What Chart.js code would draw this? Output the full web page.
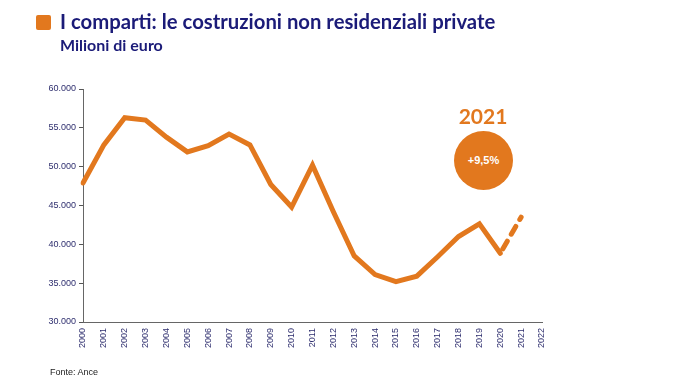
<!DOCTYPE html>
<html><head><meta charset="utf-8">
<script src="https://cdn.jsdelivr.net/npm/chart.js@4/dist/chart.umd.min.js"></script>
<style>
html,body{margin:0;padding:0;background:#fff;width:680px;height:382px;overflow:hidden;position:relative;font-family:Lato,"Open Sans",sans-serif;}
#c{position:absolute;left:0;top:0;}
.sq{position:absolute;left:36px;top:15px;width:15px;height:15px;background:#E2781E;border-radius:2px;}
.t1{position:absolute;left:60px;top:9px;font-weight:700;font-size:20.3px;color:#1B1B78;white-space:nowrap;}
.t2{position:absolute;left:60px;top:35px;font-weight:700;font-size:16px;color:#1B1B78;white-space:nowrap;}
.yr{position:absolute;left:443px;top:103px;width:80px;text-align:center;font-weight:700;font-size:21px;color:#E2781E;}
.circ{position:absolute;left:454px;top:131px;width:59px;height:59px;border-radius:50%;background:#E2781E;color:#fff;font-family:"Liberation Sans",Arial,sans-serif;font-weight:700;font-size:11px;line-height:59px;text-align:center;}
.src{position:absolute;left:50px;top:367px;font-family:"Liberation Sans",Arial,sans-serif;font-size:9px;color:#222;}
</style></head>
<body>
<canvas id="c" width="680" height="382"></canvas>
<div class="sq"></div>
<div class="t1">I comparti: le costruzioni non residenziali private</div>
<div class="t2">Milioni di euro</div>
<div class="yr">2021</div>
<div class="circ">+9,5%</div>
<div class="src">Fonte: Ance</div>
<script>
const years = ["2000","2001","2002","2003","2004","2005","2006","2007","2008","2009","2010","2011","2012","2013","2014","2015","2016","2017","2018","2019","2020","2021","2022"];
const values = [47900,52800,56300,56000,53800,51900,52700,54200,52800,47700,44800,50200,44200,38500,36100,35200,35900,38400,41000,42650,38850,43500,null];
const yTicks = [30000,35000,40000,45000,50000,55000,60000];
const orange = '#E2781E';
const navy = '#2E2E6E';

new Chart(document.getElementById('c'), {
  type: 'line',
  data: {
    labels: years,
    datasets: [{
      data: values,
      borderColor: orange,
      borderWidth: 5,
      pointRadius: 0,
      tension: 0,
      borderCapStyle: 'round',
      borderJoinStyle: 'miter',
      segment: {
        borderDash: ctx => ctx.p0DataIndex >= 20 ? [9, 8] : undefined,
        borderDashOffset: ctx => ctx.p0DataIndex >= 20 ? 12 : undefined
      }
    }]
  },
  options: {
    responsive: false,
    animation: false,
    devicePixelRatio: 1,
    layout: { padding: { left: 40, top: 89, right: 138, bottom: 30 } },
    plugins: { legend: { display: false }, tooltip: { enabled: false } },
    scales: {
      x: {
        offset: false,
        grid: { display: false, drawOnChartArea: false, drawTicks: true, tickLength: 4, tickColor: '#555' },
        border: { color: '#666', width: 1 },
        ticks: { color: navy, font: { family: 'Liberation Sans', size: 9 }, minRotation: 90, maxRotation: 90, autoSkip: false, padding: 2 },
        afterFit: s => { s.height = 30; }
      },
      y: {
        min: 30000, max: 60000,
        afterBuildTicks: s => { s.ticks = yTicks.map(v => ({ value: v })); },
        grid: { display: true, drawOnChartArea: false, drawTicks: true, tickLength: 4, tickColor: '#555' },
        border: { color: '#666', width: 1 },
        ticks: {
          color: navy, font: { family: 'Liberation Sans', size: 9 }, padding: 3,
          callback: v => (v / 1000).toFixed(3)
        },
        afterFit: s => { s.width = 43; }
      }
    }
  }
});
</script>
</body></html>
